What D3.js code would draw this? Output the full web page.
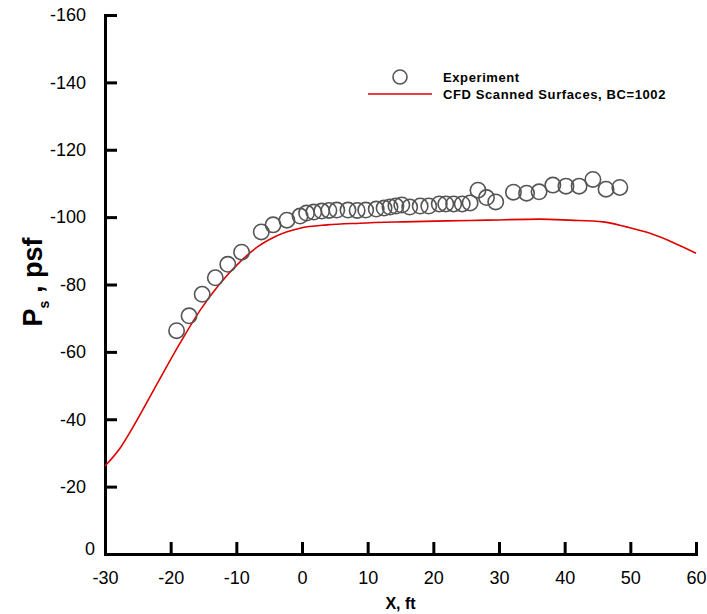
<!DOCTYPE html>
<html>
<head>
<meta charset="utf-8">
<script src="https://cdnjs.cloudflare.com/ajax/libs/d3/7.8.5/d3.min.js"></script>
<style>
    body { margin: 0; background: #fff; }
    svg { font-family: "Liberation Sans", Arial, sans-serif; }
    .tick-label { font-size: 18px; fill: #000; }
</style>
</head>
<body>
<div id="chart"></div>
<script>
// measured surface pressure (x in ft, Ps in psf)
var exp_x = [-19.1, -17.2, -15.2, -13.2, -11.3, -9.2, -6.2, -4.4, -2.3, -0.3,
    0.7, 1.8, 3.0, 4.1, 5.3, 7.0, 8.4, 9.7, 11.3, 12.5,
    13.4, 14.3, 15.2, 16.4, 18.0, 19.3, 20.9, 21.9, 23.1, 24.4,
    25.6, 26.8, 28.1, 29.5, 32.2, 34.2, 36.1, 38.2, 40.2, 42.2,
    44.3, 46.3, 48.4];
var exp_ps = [-66.3, -70.7, -77.1, -82.0, -86.0, -89.6, -95.6, -97.7, -99.1, -100.3,
    -101.2, -101.5, -101.8, -102.0, -102.1, -102.1, -102.0, -102.1, -102.4, -102.7,
    -103.0, -103.3, -103.6, -103.0, -103.3, -103.3, -103.9, -103.9, -103.9, -103.9,
    -104.2, -108.0, -105.8, -104.5, -107.4, -107.1, -107.5, -109.5, -109.2, -109.2,
    -111.2, -108.3, -108.8];

// CFD prediction along the same line
var cfd_x = [-30, -27.5, -25.7, -21.9, -18.6, -15.5, -12.7, -9.4, -6.9, -5.1,
    -3.9, -0.3, 3.8, 8.8, 15.4, 22.0, 28.1, 36.2, 40.8, 45.9,
    49.4, 53.0, 56.5, 60];
var cfd_ps = [-26.1, -32.0, -37.8, -51.1, -62.5, -72.4, -79.8, -86.8, -91.0, -93.2,
    -94.4, -96.7, -97.7, -98.2, -98.6, -98.9, -99.1, -99.4, -99.1, -98.6,
    -97.1, -95.2, -92.5, -89.3];

var x_ticks = [-30, -20, -10, 0, 10, 20, 30, 40, 50, 60];
var y_ticks = [0, -20, -40, -60, -80, -100, -120, -140, -160];

var legend_labels = ["Experiment", "CFD Scanned Surfaces, BC=1002"];

var margins = {top: 15, right: 11, bottom: 60, left: 105},
    total_w = 707, total_h = 614,
    width = total_w - margins.left - margins.right,
    height = total_h - margins.top - margins.bottom;

var svg = d3.select("#chart").append("svg")
    .attr("width", total_w)
    .attr("height", total_h);

var g = svg.append("g")
    .attr("transform", "translate(" + margins.left + "," + margins.top + ")");

var xScale = d3.scaleLinear().domain([-30, 60]).range([0, width]);
// pressure axis runs negative upward
var yScale = d3.scaleLinear().domain([0, -160]).range([height, 0]);

// plain hyphen for negatives, not the unicode minus
var plain = function(d) { return String(d); };

var xAxis = d3.axisBottom(xScale).tickValues(x_ticks).tickSize(-12).tickPadding(15).tickFormat(plain);
var yAxis = d3.axisLeft(yScale).tickValues(y_ticks).tickSize(-12).tickPadding(19).tickFormat(plain);

var gx = g.append("g")
    .attr("transform", "translate(0," + height + ")")
    .call(xAxis);
var gy = g.append("g").call(yAxis);

[gx, gy].forEach(function(ax) {
    ax.select(".domain").attr("stroke", "#000").attr("stroke-width", 3);
    ax.selectAll(".tick line").attr("stroke", "#000").attr("stroke-width", 3);
    ax.selectAll(".tick text")
        .attr("class", "tick-label")
        .attr("font-family", null)
        .attr("font-size", null);
});
gx.selectAll(".tick text").attr("dy", "0.85em");
// zero label on the y axis sits a bit high
gy.selectAll(".tick text").filter(function(d) { return d === 0; })
    .attr("dy", "0.05em").attr("x", -10);
gx.selectAll(".tick text").filter(function(d) { return d === -30; })
    .attr("x", 0);

var cfd = cfd_x.map(function(x, i) { return {x: x, y: cfd_ps[i]}; });
var exp = exp_x.map(function(x, i) { return {x: x, y: exp_ps[i]}; });

var line = d3.line()
    .curve(d3.curveMonotoneX)
    .x(function(d) { return xScale(d.x); })
    .y(function(d) { return yScale(d.y); });

g.append("path")
    .datum(cfd)
    .attr("d", line)
    .attr("fill", "none")
    .attr("stroke", "#e00000")
    .attr("stroke-width", 1.6);

g.selectAll("circle.exp")
    .data(exp)
    .enter().append("circle")
    .attr("class", "exp")
    .attr("cx", function(d) { return xScale(d.x); })
    .attr("cy", function(d) { return yScale(d.y); })
    .attr("r", 7.7)
    .attr("fill", "none")
    .attr("stroke", "#555")
    .attr("stroke-width", 1.6);

// legend
var legend = svg.append("g").attr("transform", "translate(368,77)");
legend.append("circle")
    .attr("cx", 32).attr("cy", 0).attr("r", 7)
    .attr("fill", "none").attr("stroke", "#555").attr("stroke-width", 1.6);
legend.append("line")
    .attr("x1", 0).attr("x2", 64).attr("y1", 17).attr("y2", 17)
    .attr("stroke", "#e00000").attr("stroke-width", 1.6);
legend.selectAll("text")
    .data(legend_labels)
    .enter().append("text")
    .attr("x", 75)
    .attr("y", function(d, i) { return i * 17; })
    .attr("dy", "0.35em")
    .attr("font-size", 13)
    .attr("letter-spacing", 0.6)
    .attr("font-weight", "bold")
    .text(function(d) { return d; });

// axis titles
svg.append("text")
    .attr("x", margins.left + width / 2)
    .attr("y", 609)
    .attr("text-anchor", "middle")
    .attr("font-size", 16)
    .attr("font-weight", "bold")
    .text("X, ft");

var ytitle = svg.append("text")
    .attr("transform", "translate(42,282) rotate(-90)")
    .attr("text-anchor", "middle")
    .attr("font-size", 27)
    .attr("font-weight", "bold");
ytitle.append("tspan").text("P");
ytitle.append("tspan").attr("font-size", 14).attr("dy", 7).text("s");
ytitle.append("tspan").attr("dy", -7).text(" , psf");
</script>
</body>
</html>
